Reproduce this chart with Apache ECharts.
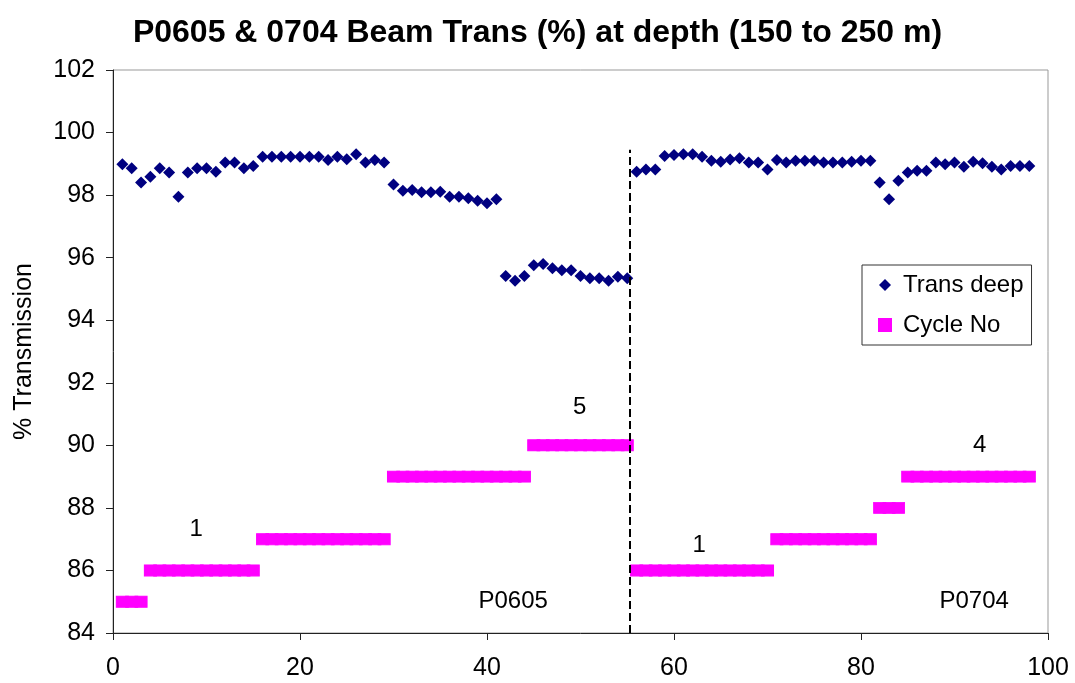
<!DOCTYPE html>
<html>
<head>
<meta charset="utf-8">
<script src="https://cdn.jsdelivr.net/npm/echarts@6/dist/echarts.min.js"></script>
<style>
  html, body { margin: 0; padding: 0; background: #fff; }
  #beamChart { width: 1075px; height: 683px; }
</style>
</head>
<body>
<div id="beamChart"></div>
<script>
    // beam transmission, one value per sample (P0605 = 1..55, P0704 = 56..98)
    var transP0605 = [
        98.99, 98.86, 98.40, 98.59, 98.86, 98.72, 97.95, 98.72, 98.86, 98.86,
        98.75, 99.04, 99.04, 98.86, 98.93, 99.23, 99.23, 99.23, 99.23, 99.23,
        99.23, 99.23, 99.12, 99.23, 99.15, 99.31, 99.04, 99.12, 99.04, 98.34,
        98.14, 98.16, 98.09, 98.09, 98.11, 97.95, 97.95, 97.90, 97.82, 97.74,
        97.87, 95.41, 95.26, 95.41, 95.76, 95.80, 95.66, 95.60, 95.60, 95.41,
        95.34, 95.34, 95.26, 95.39, 95.34
    ];
    var transP0704 = [
        98.75, 98.82, 98.82, 99.25, 99.28, 99.31, 99.31, 99.23, 99.10, 99.07,
        99.14, 99.18, 99.04, 99.04, 98.82, 99.12, 99.04, 99.10, 99.10, 99.10,
        99.04, 99.04, 99.04, 99.07, 99.10, 99.10, 98.40, 97.87, 98.46, 98.72,
        98.78, 98.78, 99.04, 98.99, 99.04, 98.91, 99.07, 99.02, 98.91, 98.82,
        98.93, 98.93, 98.93
    ];
    // cycle number, as plotted on the same axis
    var cycleP0605 = [
        85, 85, 85,
        86, 86, 86, 86, 86, 86, 86, 86, 86, 86, 86, 86,
        87, 87, 87, 87, 87, 87, 87, 87, 87, 87, 87, 87, 87, 87,
        89, 89, 89, 89, 89, 89, 89, 89, 89, 89, 89, 89, 89, 89, 89,
        90, 90, 90, 90, 90, 90, 90, 90, 90, 90, 90
    ];
    var cycleP0704 = [
        86, 86, 86, 86, 86, 86, 86, 86, 86, 86, 86, 86, 86, 86, 86,
        87, 87, 87, 87, 87, 87, 87, 87, 87, 87, 87,
        88, 88, 88,
        89, 89, 89, 89, 89, 89, 89, 89, 89, 89, 89, 89, 89, 89
    ];

    var noteText = ['1', '5', '1', '4', 'P0605', 'P0704'];
    var noteX = [8.9, 49.9, 62.7, 92.7, 42.8, 92.1];
    var noteY = [87.3, 91.2, 86.8, 90.0, 85.0, 85.0];

    var splitX = 55.3;
    var splitTop = 99.45;

    var xTicks = [0, 100, 20];
    var yTicks = [84, 102, 2];

    var trans = transP0605.concat(transP0704);
    var cycle = cycleP0605.concat(cycleP0704);

    function toPoints(values) {
        return values.map(function (v, i) { return [i + 1, v]; });
    }

    var font = 'Liberation Sans, Arial, sans-serif';

    var chart = echarts.init(document.getElementById('beamChart'), null, { renderer: 'canvas' });

    var option = {
        backgroundColor: '#fff',
        animation: false,
        title: {
            text: 'P0605 & 0704 Beam Trans (%) at depth (150 to 250 m)',
            left: 'center',
            top: 12,
            textStyle: { fontFamily: font, fontSize: 32, fontWeight: 'bold', color: '#000' }
        },
        legend: {
            orient: 'vertical',
            left: 862,
            top: 265,
            padding: [8, 8, 8, 16],
            itemGap: 16,
            itemWidth: 12,
            itemHeight: 12,
            borderColor: '#333',
            borderWidth: 1,
            backgroundColor: '#fff',
            textStyle: { fontFamily: font, fontSize: 24, color: '#000', lineHeight: 24, padding: [0, 0, 0, 7] },
            data: [
                { name: 'Trans deep', icon: 'diamond' },
                { name: 'Cycle No', icon: 'rect' }
            ]
        },
        grid: {
            left: 113,
            right: 27,
            top: 70,
            bottom: 50,
            show: true,
            borderColor: '#999',
            borderWidth: 1
        },
        xAxis: {
            type: 'value',
            min: xTicks[0],
            max: xTicks[1],
            interval: xTicks[2],
            splitLine: { show: false },
            axisLine: { lineStyle: { color: '#222', width: 1 } },
            axisTick: { show: true, length: 7, lineStyle: { color: '#222' } },
            axisLabel: { fontFamily: font, fontSize: 25, color: '#000', margin: 23 }
        },
        yAxis: {
            type: 'value',
            min: yTicks[0],
            max: yTicks[1],
            interval: yTicks[2],
            name: '% Transmission',
            nameLocation: 'middle',
            nameGap: 76,
            nameTextStyle: { fontFamily: font, fontSize: 25, color: '#000' },
            splitLine: { show: false },
            axisLine: { show: true, lineStyle: { color: '#222', width: 1 } },
            axisTick: { show: true, length: 7, lineStyle: { color: '#222' } },
            axisLabel: { fontFamily: font, fontSize: 25, color: '#000', margin: 18 }
        },
        series: [
            {
                name: 'Cycle No',
                type: 'scatter',
                symbol: 'rect',
                symbolSize: [12, 11],
                itemStyle: { color: '#FF00FF', opacity: 1, borderColor: '#FF00FF', borderWidth: 1 },
                data: toPoints(cycle),
                z: 2,
                markPoint: {
                    symbol: 'circle',
                    symbolSize: 0,
                    label: {
                        show: true,
                        position: 'inside',
                        formatter: '{b}',
                        fontFamily: font,
                        fontSize: 24,
                        color: '#000'
                    },
                    data: noteText.map(function (t, i) {
                        return { name: t, coord: [noteX[i], noteY[i]] };
                    })
                },
                markLine: {
                    symbol: ['none', 'none'],
                    silent: true,
                    label: { show: false },
                    lineStyle: { color: '#000', type: [8, 4], width: 2 },
                    data: [[{ coord: [splitX, yTicks[0]] }, { coord: [splitX, splitTop] }]]
                }
            },
            {
                name: 'Trans deep',
                type: 'scatter',
                symbol: 'diamond',
                symbolSize: 12,
                itemStyle: { color: '#000080', opacity: 1 },
                data: toPoints(trans),
                z: 3
            }
        ]
    };

    chart.setOption(option);
</script>
</body>
</html>
